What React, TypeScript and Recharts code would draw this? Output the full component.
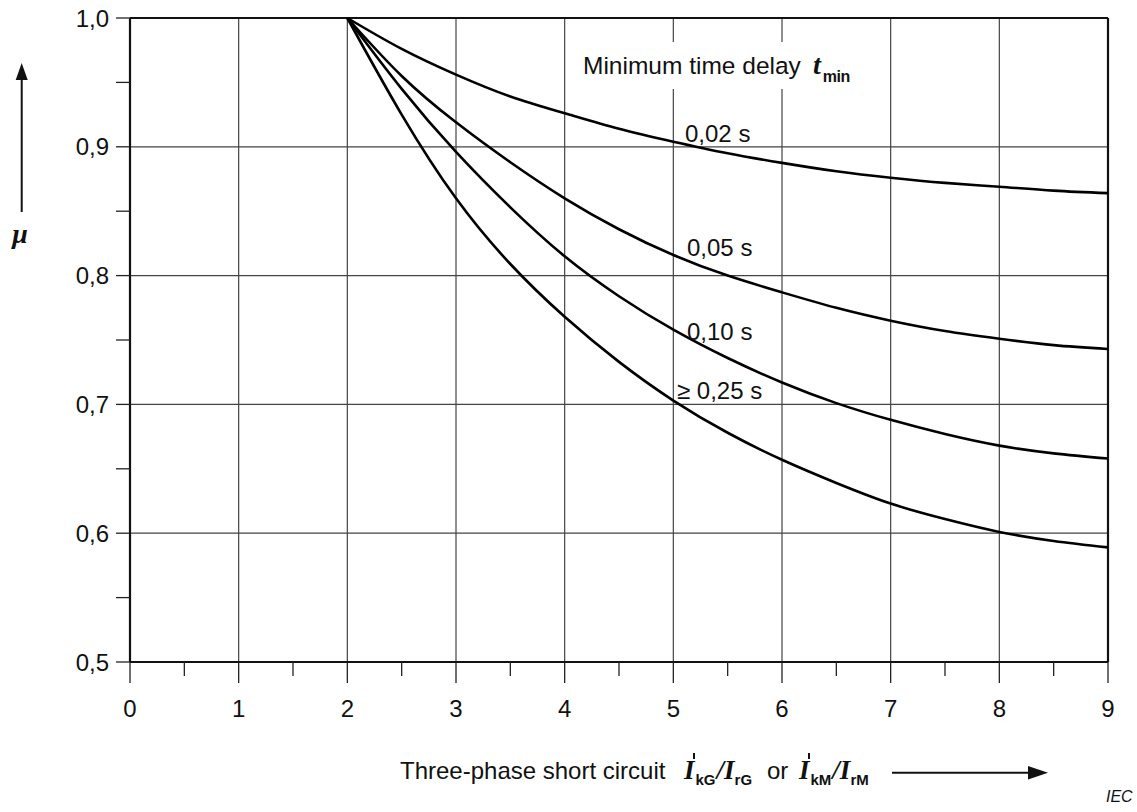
import React from 'react';
import { LineChart, Line, XAxis, YAxis, ReferenceLine } from 'recharts';

// x = I"k / Ir, curves start at 2 (mu = 1 below that)
const ratioSteps = [2, 2.5, 3, 3.5, 4, 4.5, 5, 5.5, 6, 6.5, 7, 7.5, 8, 8.5, 9];
const mu002 = [1.0, 0.976, 0.956, 0.939, 0.926, 0.914, 0.904, 0.895, 0.8875, 0.881, 0.876, 0.872, 0.869, 0.866, 0.864];
const mu005 = [1.0, 0.955, 0.919, 0.888, 0.86, 0.836, 0.816, 0.8, 0.787, 0.775, 0.765, 0.757, 0.751, 0.746, 0.743];
const mu010 = [1.0, 0.945, 0.896, 0.853, 0.815, 0.784, 0.758, 0.736, 0.717, 0.701, 0.688, 0.677, 0.668, 0.662, 0.658];
const mu025 = [1.0, 0.925, 0.86, 0.809, 0.768, 0.733, 0.703, 0.678, 0.657, 0.639, 0.623, 0.611, 0.601, 0.594, 0.589];

const xTickValues = [0, 0.5, 1, 1.5, 2, 2.5, 3, 3.5, 4, 4.5, 5, 5.5, 6, 6.5, 7, 7.5, 8, 8.5, 9];
const yTickValues = [0.5, 0.55, 0.6, 0.65, 0.7, 0.75, 0.8, 0.85, 0.9, 0.95, 1.0];
const xGridValues = [1, 2, 3, 4, 5, 6, 7, 8];
const yGridValues = [0.6, 0.7, 0.8, 0.9];

const SANS = '"Liberation Sans", Arial, sans-serif';
const SERIF = '"Liberation Serif", "Times New Roman", serif';

const toSeries = (values: number[]) => ratioSteps.map((x, i) => ({ x, mu: values[i] }));

const isMajorY = (v: number) => Math.abs(v * 10 - Math.round(v * 10)) < 1e-6;

const XTick = ({ x, y, payload }: any) => {
  const v = payload.value;
  const major = Number.isInteger(v);
  return (
    <g>
      <line x1={x} x2={x} y1={y} y2={y + (major ? 21 : 14)} stroke="#222" strokeWidth={1.3} />
      {major && (
        <text x={x} y={y + 55} textAnchor="middle" fontFamily={SANS} fontSize={24} fill="#111">
          {v}
        </text>
      )}
    </g>
  );
};

const YTick = ({ x, y, payload }: any) => {
  const v = payload.value;
  return (
    <g>
      <line x1={x - 14} x2={x} y1={y} y2={y} stroke="#222" strokeWidth={1.3} />
      {isMajorY(v) && (
        <text x={x - 21} y={y + 8.5} textAnchor="end" fontFamily={SANS} fontSize={24} fill="#111">
          {v.toFixed(1).replace('.', ',')}
        </text>
      )}
    </g>
  );
};

export default function App() {
  const curves = [mu002, mu005, mu010, mu025];
  return (
    <div style={{ position: 'absolute', left: 0, top: 0, width: 1137, height: 812, background: '#fff' }}>
      <LineChart width={1137} height={812} margin={{ top: 18, right: 29, left: 0, bottom: 0 }}>
        <XAxis
          type="number"
          dataKey="x"
          domain={[0, 9]}
          ticks={xTickValues}
          interval={0}
          tick={<XTick />}
          tickLine={false}
          tickSize={0}
          tickMargin={0}
          height={150}
          axisLine={{ stroke: '#111', strokeWidth: 2.2 }}
          allowDuplicatedCategory={false}
        />
        <YAxis
          type="number"
          domain={[0.5, 1]}
          ticks={yTickValues}
          interval={0}
          tick={<YTick />}
          tickLine={false}
          tickSize={0}
          tickMargin={0}
          width={130}
          axisLine={{ stroke: '#111', strokeWidth: 2.2 }}
        />
        {xGridValues.map((v) => (
          <ReferenceLine key={'gx' + v} x={v} stroke="#444" strokeWidth={1.2} />
        ))}
        {yGridValues.map((v) => (
          <ReferenceLine key={'gy' + v} y={v} stroke="#444" strokeWidth={1.2} />
        ))}
        <ReferenceLine y={1} stroke="#111" strokeWidth={2.2} />
        <ReferenceLine x={9} stroke="#111" strokeWidth={2.2} />
        {curves.map((vals, i) => (
          <Line
            key={'c' + i}
            data={toSeries(vals)}
            dataKey="mu"
            type="natural"
            stroke="#000"
            strokeWidth={2.6}
            dot={false}
            isAnimationActive={false}
          />
        ))}
      </LineChart>

      {/* annotations and axis titles */}
      <svg
        width={1137}
        height={812}
        style={{ position: 'absolute', left: 0, top: 0, pointerEvents: 'none' }}
      >
        <rect x={574} y={42} width={292} height={47} fill="#fff" />
        <text x={583} y={74} fontFamily={SANS} fontSize={24.5} fill="#111">
          Minimum time delay
        </text>
        <text x={813} y={74} fill="#111">
          <tspan fontFamily={SERIF} fontSize={28} fontStyle="italic" fontWeight="bold">t</tspan>
          <tspan dx={2} dy={8} fontFamily={SANS} fontSize={16} fontWeight="bold" letterSpacing={-0.5}>min</tspan>
        </text>

        <text x={685} y={141.5} fontFamily={SANS} fontSize={24} fill="#111">0,02 s</text>
        <text x={687} y={256} fontFamily={SANS} fontSize={24} fill="#111">0,05 s</text>
        <text x={687} y={339.5} fontFamily={SANS} fontSize={24} fill="#111">0,10 s</text>
        <text x={677} y={398.5} fontFamily={SANS} fontSize={24} fill="#111">≥ 0,25 s</text>

        {/* y axis title */}
        <line x1={21.7} x2={21.7} y1={212} y2={78} stroke="#111" strokeWidth={2} />
        <polygon points="21.7,63 15.7,80 27.7,80" fill="#111" />
        <text x={20} y={243} textAnchor="middle" fontFamily={SERIF} fontSize={28} fontStyle="italic" fontWeight="bold" fill="#111">
          μ
        </text>

        {/* x axis title */}
        <text x={400} y={779} fontFamily={SANS} fontSize={24} fill="#111">
          Three-phase short circuit
        </text>
        <text x={684} y={779} fill="#111">
          <tspan fontFamily={SERIF} fontSize={27} fontStyle="italic" fontWeight="bold">I</tspan>
          <tspan dx={1} dy={6} fontFamily={SANS} fontSize={15} fontWeight="bold">kG</tspan>
          <tspan dx={1} dy={-6} fontFamily={SERIF} fontSize={27} fontStyle="italic" fontWeight="bold">/I</tspan>
          <tspan dy={6} fontFamily={SANS} fontSize={15} fontWeight="bold">rG</tspan>
          <tspan x={767} y={779} fontFamily={SANS} fontSize={24}>or</tspan>
          <tspan x={799} y={779} fontFamily={SERIF} fontSize={27} fontStyle="italic" fontWeight="bold">I</tspan>
          <tspan dx={1} dy={6} fontFamily={SANS} fontSize={15} fontWeight="bold">kM</tspan>
          <tspan dx={1} dy={-6} fontFamily={SERIF} fontSize={27} fontStyle="italic" fontWeight="bold">/I</tspan>
          <tspan dy={6} fontFamily={SANS} fontSize={15} fontWeight="bold">rM</tspan>
        </text>
        {/* double-prime marks over the initial currents */}
        <line x1={694} x2={694} y1={753} y2={759} stroke="#111" strokeWidth={2} />
        <line x1={809} x2={809} y1={753} y2={759} stroke="#111" strokeWidth={2} />
        <line x1={892} x2={1030} y1={772.7} y2={772.7} stroke="#111" strokeWidth={2} />
        <polygon points="1048,772.7 1028,766 1028,779.4" fill="#111" />

        <text x={1106} y={802} fontFamily={SANS} fontSize={16} fontStyle="italic" fill="#111">
          IEC
        </text>
      </svg>
    </div>
  );
}
